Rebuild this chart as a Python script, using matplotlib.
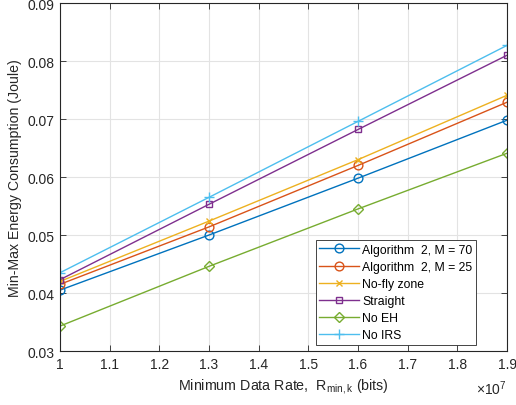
import matplotlib
matplotlib.use("Agg")
import matplotlib.pyplot as plt
from matplotlib.ticker import FuncFormatter, MultipleLocator

plt.rcParams['font.family'] = ['Liberation Sans', 'DejaVu Sans']
plt.rcParams['mathtext.fontset'] = 'custom'
plt.rcParams['mathtext.rm'] = 'Liberation Sans'
plt.rcParams['mathtext.it'] = 'Liberation Sans:italic'

rates = [1.0e7, 1.3e7, 1.6e7, 1.9e7]
alg_m70 = [0.0405, 0.0500, 0.0598, 0.0698]
alg_m25 = [0.0415, 0.0514, 0.0620, 0.0729]
no_fly = [0.0420, 0.0524, 0.0630, 0.0741]
straight = [0.0423, 0.0553, 0.0682, 0.0810]
no_eh = [0.0343, 0.0446, 0.0545, 0.0641]
no_irs = [0.0435, 0.0565, 0.0696, 0.0827]

labels = ['Algorithm  2, M = 70', 'Algorithm  2, M = 25', 'No-fly zone',
          'Straight', 'No EH', 'No IRS']
series = [alg_m70, alg_m25, no_fly, straight, no_eh, no_irs]
colors = ['#0072BD', '#D95319', '#EDB120', '#7E2F8E', '#77AC30', '#4DBEEE']
markers = ['o', 'o', 'x', 's', 'D', '+']
msizes = [6.3, 6.3, 5, 5, 5, 7]

fig = plt.figure(figsize=(5.16, 4.06), dpi=100)
ax = fig.add_axes([0.1163, 0.133, 0.8663, 0.857])

for ys, lab, c, m, ms in zip(series, labels, colors, markers, msizes):
    ax.plot(rates, ys, color=c, marker=m, markersize=ms, markerfacecolor='none',
            markeredgewidth=1.0, linewidth=1.0, label=lab)

ax.set_xlim(1.0e7, 1.9e7)
ax.set_ylim(0.03, 0.09)
ax.xaxis.set_major_locator(MultipleLocator(0.1e7))
ax.yaxis.set_major_locator(MultipleLocator(0.01))
ax.xaxis.set_major_formatter(FuncFormatter(lambda v, p: f'{v/1e7:g}'))
ax.yaxis.set_major_formatter(FuncFormatter(lambda v, p: f'{v:.2f}'))

ax.grid(True, color='#e3e3e3', linewidth=0.8)
ax.set_axisbelow(True)
ax.tick_params(direction='in', top=True, right=True, labelsize=10, colors='#262626',
               length=4, width=0.6, pad=4)
for s in ax.spines.values():
    s.set_color('#262626')
    s.set_linewidth(0.8)

ax.text(1.0, -0.08, r'$\times10^{7}$', transform=ax.transAxes, ha='right', va='top',
        fontsize=10, color='#262626')

ax.set_xlabel(r'Minimum Data Rate,  R$_{\rm min,k}$ (bits)', fontsize=10.3,
              color='#262626', labelpad=4)
ax.set_ylabel('Min-Max Energy Consumption (Joule)', fontsize=10.2, color='#262626',
              labelpad=4)

leg = ax.legend(loc='lower right', bbox_to_anchor=(0.931, 0.017), fontsize=8.8,
                fancybox=False, edgecolor='#262626', framealpha=1,
                handlelength=3.2, borderaxespad=0, labelspacing=0.42,
                handletextpad=0.3, borderpad=0.3)
leg.get_frame().set_linewidth(0.6)

fig.savefig('out.png', dpi=100)
